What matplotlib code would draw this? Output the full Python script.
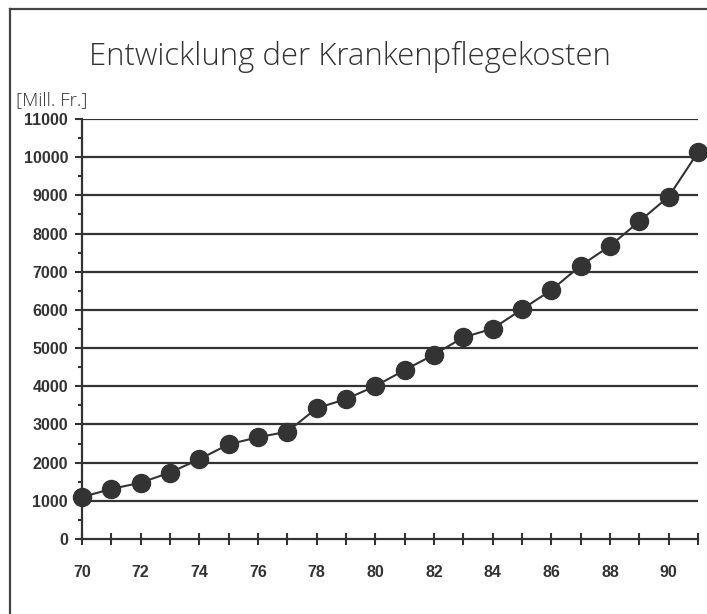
import matplotlib
matplotlib.use("Agg")
from matplotlib import pyplot as plt
from matplotlib.lines import Line2D

# data: Krankenpflegekosten in Mill. Fr., 1970-1991
years = [70, 71, 72, 73, 74, 75, 76, 77, 78, 79, 80,
         81, 82, 83, 84, 85, 86, 87, 88, 89, 90, 91]
costs = [1100, 1310, 1475, 1740, 2090, 2480, 2665, 2810, 3425, 3665, 4005,
         4425, 4830, 5280, 5510, 6015, 6520, 7160, 7675, 8320, 8965, 10130]
x_labels = [70, 72, 74, 76, 78, 80, 82, 84, 86, 88, 90]
y_ticks = [0, 1000, 2000, 3000, 4000, 5000, 6000, 7000, 8000, 9000, 10000, 11000]

dark = "#333333"

fig = plt.figure(figsize=(7.07, 6.14), dpi=100)
ax = fig.add_axes([82 / 707, 1 - 539 / 614, 616 / 707, 420 / 614])

# outer frame (only left and top edge visible in the crop)
fig.add_artist(Line2D([10 / 707, 10 / 707], [0, 1 - 9 / 614], transform=fig.transFigure,
                      color="#444444", lw=1.6))
fig.add_artist(Line2D([10 / 707, 1], [1 - 9 / 614, 1 - 9 / 614], transform=fig.transFigure,
                      color="#444444", lw=1.6))

for v in y_ticks[1:]:
    ax.axhline(v, color=dark, lw=1.6, zorder=1)

ax.plot(years, costs, color=dark, lw=1.5, marker="o", markersize=13,
        clip_on=False, zorder=3)

ax.set_xlim(70, 91)
ax.set_ylim(0, 11000)
for s in ["top", "right"]:
    ax.spines[s].set_visible(False)
for s in ["left", "bottom"]:
    ax.spines[s].set_color(dark)
    ax.spines[s].set_linewidth(1.6)

ax.set_yticks(y_ticks)
ax.set_yticks([v + 500 for v in y_ticks[:-1]], minor=True)
ax.set_xticks(years)
ax.set_xticklabels([str(y) if y in x_labels else "" for y in years])

ax.tick_params(axis="y", which="major", direction="out", length=5, width=1.5,
               color=dark, pad=5)
ax.tick_params(axis="y", which="minor", direction="out", length=3, width=1.5, color=dark)
ax.tick_params(axis="x", which="major", direction="inout", length=9, width=1.5,
               color=dark, pad=14)
for lab in ax.get_xticklabels() + ax.get_yticklabels():
    lab.set_fontfamily("Liberation Sans")
    lab.set_fontweight("bold")
    lab.set_fontsize(11.5)
    lab.set_color(dark)

fig.text(350 / 707, 1 - 57 / 614, "Entwicklung der Krankenpflegekosten",
         fontfamily="Open Sans", fontweight="light", fontsize=22.4, color=dark,
         ha="center", va="center")
fig.text(16 / 707, 1 - 100 / 614, "[Mill. Fr.]", fontfamily="Open Sans",
         fontweight="light", fontsize=13.5, color=dark, ha="left", va="center")

fig.savefig("out.png", dpi=100)
